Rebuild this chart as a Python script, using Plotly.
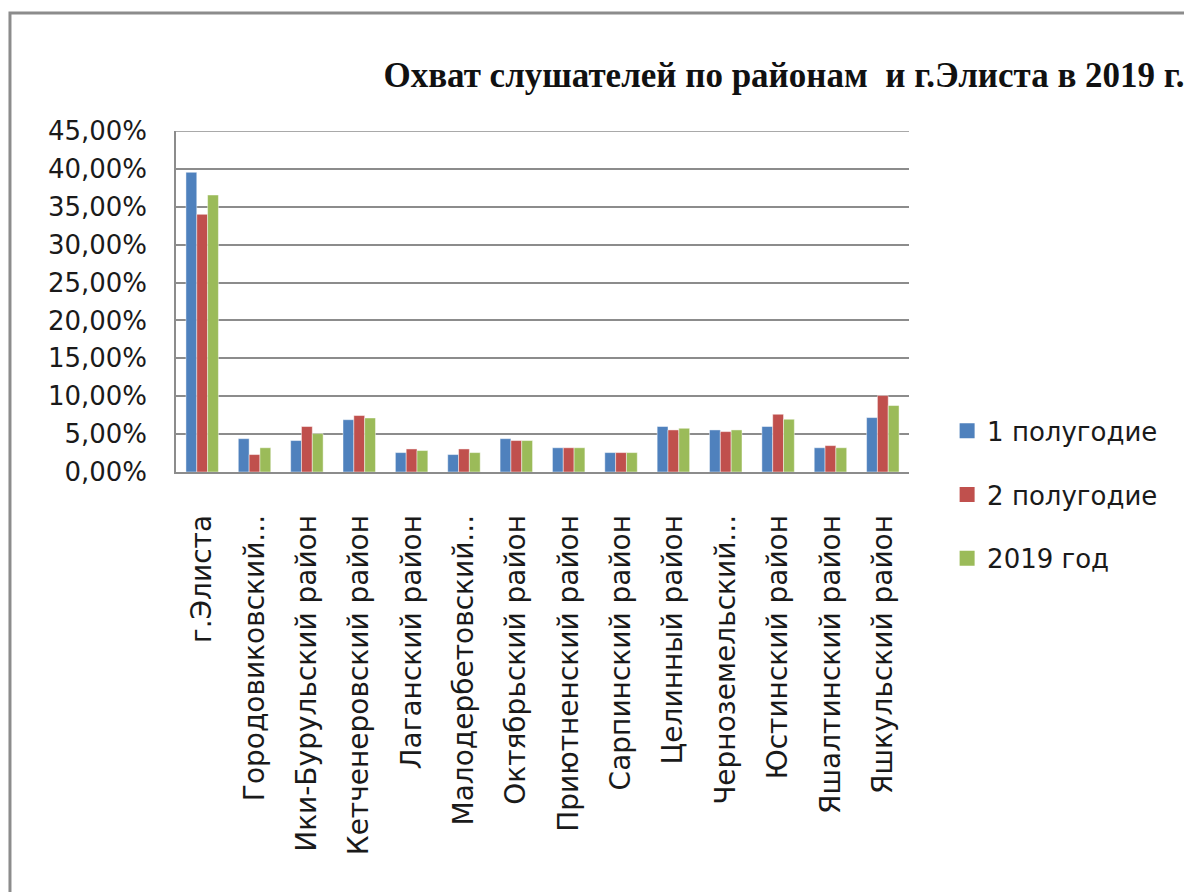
import plotly.graph_objects as go

categories = [
    "г.Элиста", "Городовиковский...", "Ики-Бурульский район", "Кетченеровский район",
    "Лаганский район", "Малодербетовский...", "Октябрьский район", "Приютненский район",
    "Сарпинский район", "Целинный район", "Черноземельский...", "Юстинский район",
    "Яшалтинский район", "Яшкульский район",
]
half1 = [0.3955, 0.044, 0.0415, 0.069, 0.0256, 0.023, 0.044, 0.032, 0.0256, 0.060, 0.0555, 0.060, 0.032, 0.0718]
half2 = [0.340, 0.023, 0.060, 0.0745, 0.0304, 0.0304, 0.0415, 0.032, 0.0256, 0.0555, 0.0533, 0.0762, 0.0348, 0.1009]
year = [0.3655, 0.032, 0.0507, 0.0713, 0.0283, 0.0256, 0.0415, 0.032, 0.0256, 0.0577, 0.0555, 0.0696, 0.032, 0.0877]
series_names = ["1 полугодие", "2 полугодие", "2019 год"]
colors = ["#4F81BD", "#C0504D", "#9BBB59"]

fig = go.Figure()
for i, (name, vals, col) in enumerate(zip(series_names, [half1, half2, year], colors)):
    fig.add_trace(go.Bar(
        x=categories, y=vals, name=name, legendgroup=f"g{i}", showlegend=False,
        marker=dict(color=col, line=dict(color="rgba(255,255,255,0.45)", width=1)),
    ))
# legend entries with larger square swatches
for i, (name, col) in enumerate(zip(series_names, colors)):
    fig.add_trace(go.Scatter(
        x=[None], y=[None], mode="markers", name=name, legendgroup=f"g{i}",
        marker=dict(symbol="square", size=15, color=col),
    ))

font_sans = "DejaVu Sans"
fig.update_layout(
    width=1192, height=892,
    margin=dict(l=168, r=291, t=123, b=428),
    paper_bgcolor="white", plot_bgcolor="white",
    separators=", ",
    barmode="group", bargap=0.38, bargroupgap=0,
    title=dict(
        text="<b>Охват слушателей по районам  и г.Элиста в 2019 г.</b>",
        font=dict(family="Liberation Serif", size=35, color="#111111"),
        x=0.651, xanchor="center", y=0.925, yanchor="middle",
    ),
    legend=dict(
        x=1.052, xanchor="left", y=-0.067, yanchor="middle",
        font=dict(family=font_sans, size=26, color="#1a1a1a"),
        tracegroupgap=27, traceorder="grouped",
        itemwidth=30,
    ),
    showlegend=True,
    shapes=[
        dict(type="rect", xref="paper", yref="paper",
             x0=-0.2265, x1=1.6, y0=-2.0, y1=1.346,
             line=dict(color="#8c8c8c", width=3), fillcolor="rgba(0,0,0,0)", layer="below"),
        dict(type="line", xref="paper", yref="y", x0=0, x1=1, y0=0.45, y1=0.45,
             line=dict(color="#8c8c8c", width=1.5), layer="below"),
    ],
)
fig.update_yaxes(
    range=[0, 0.45], dtick=0.05, tickformat=".2%",
    showgrid=True, gridcolor="#8c8c8c", gridwidth=1.5,
    showline=True, linecolor="#8c8c8c", linewidth=1.5, mirror=False,
    zeroline=False, ticks="", ticklabelstandoff=22,
    tickfont=dict(family=font_sans, size=26, color="#1a1a1a"),
)
fig.update_xaxes(
    tickangle=-90, showline=True, linecolor="#8c8c8c", linewidth=1.5,
    showgrid=False, ticks="", ticklabelstandoff=30,
    tickfont=dict(family=font_sans, size=28, color="#1a1a1a"),
)
fig.write_html("out.html")
